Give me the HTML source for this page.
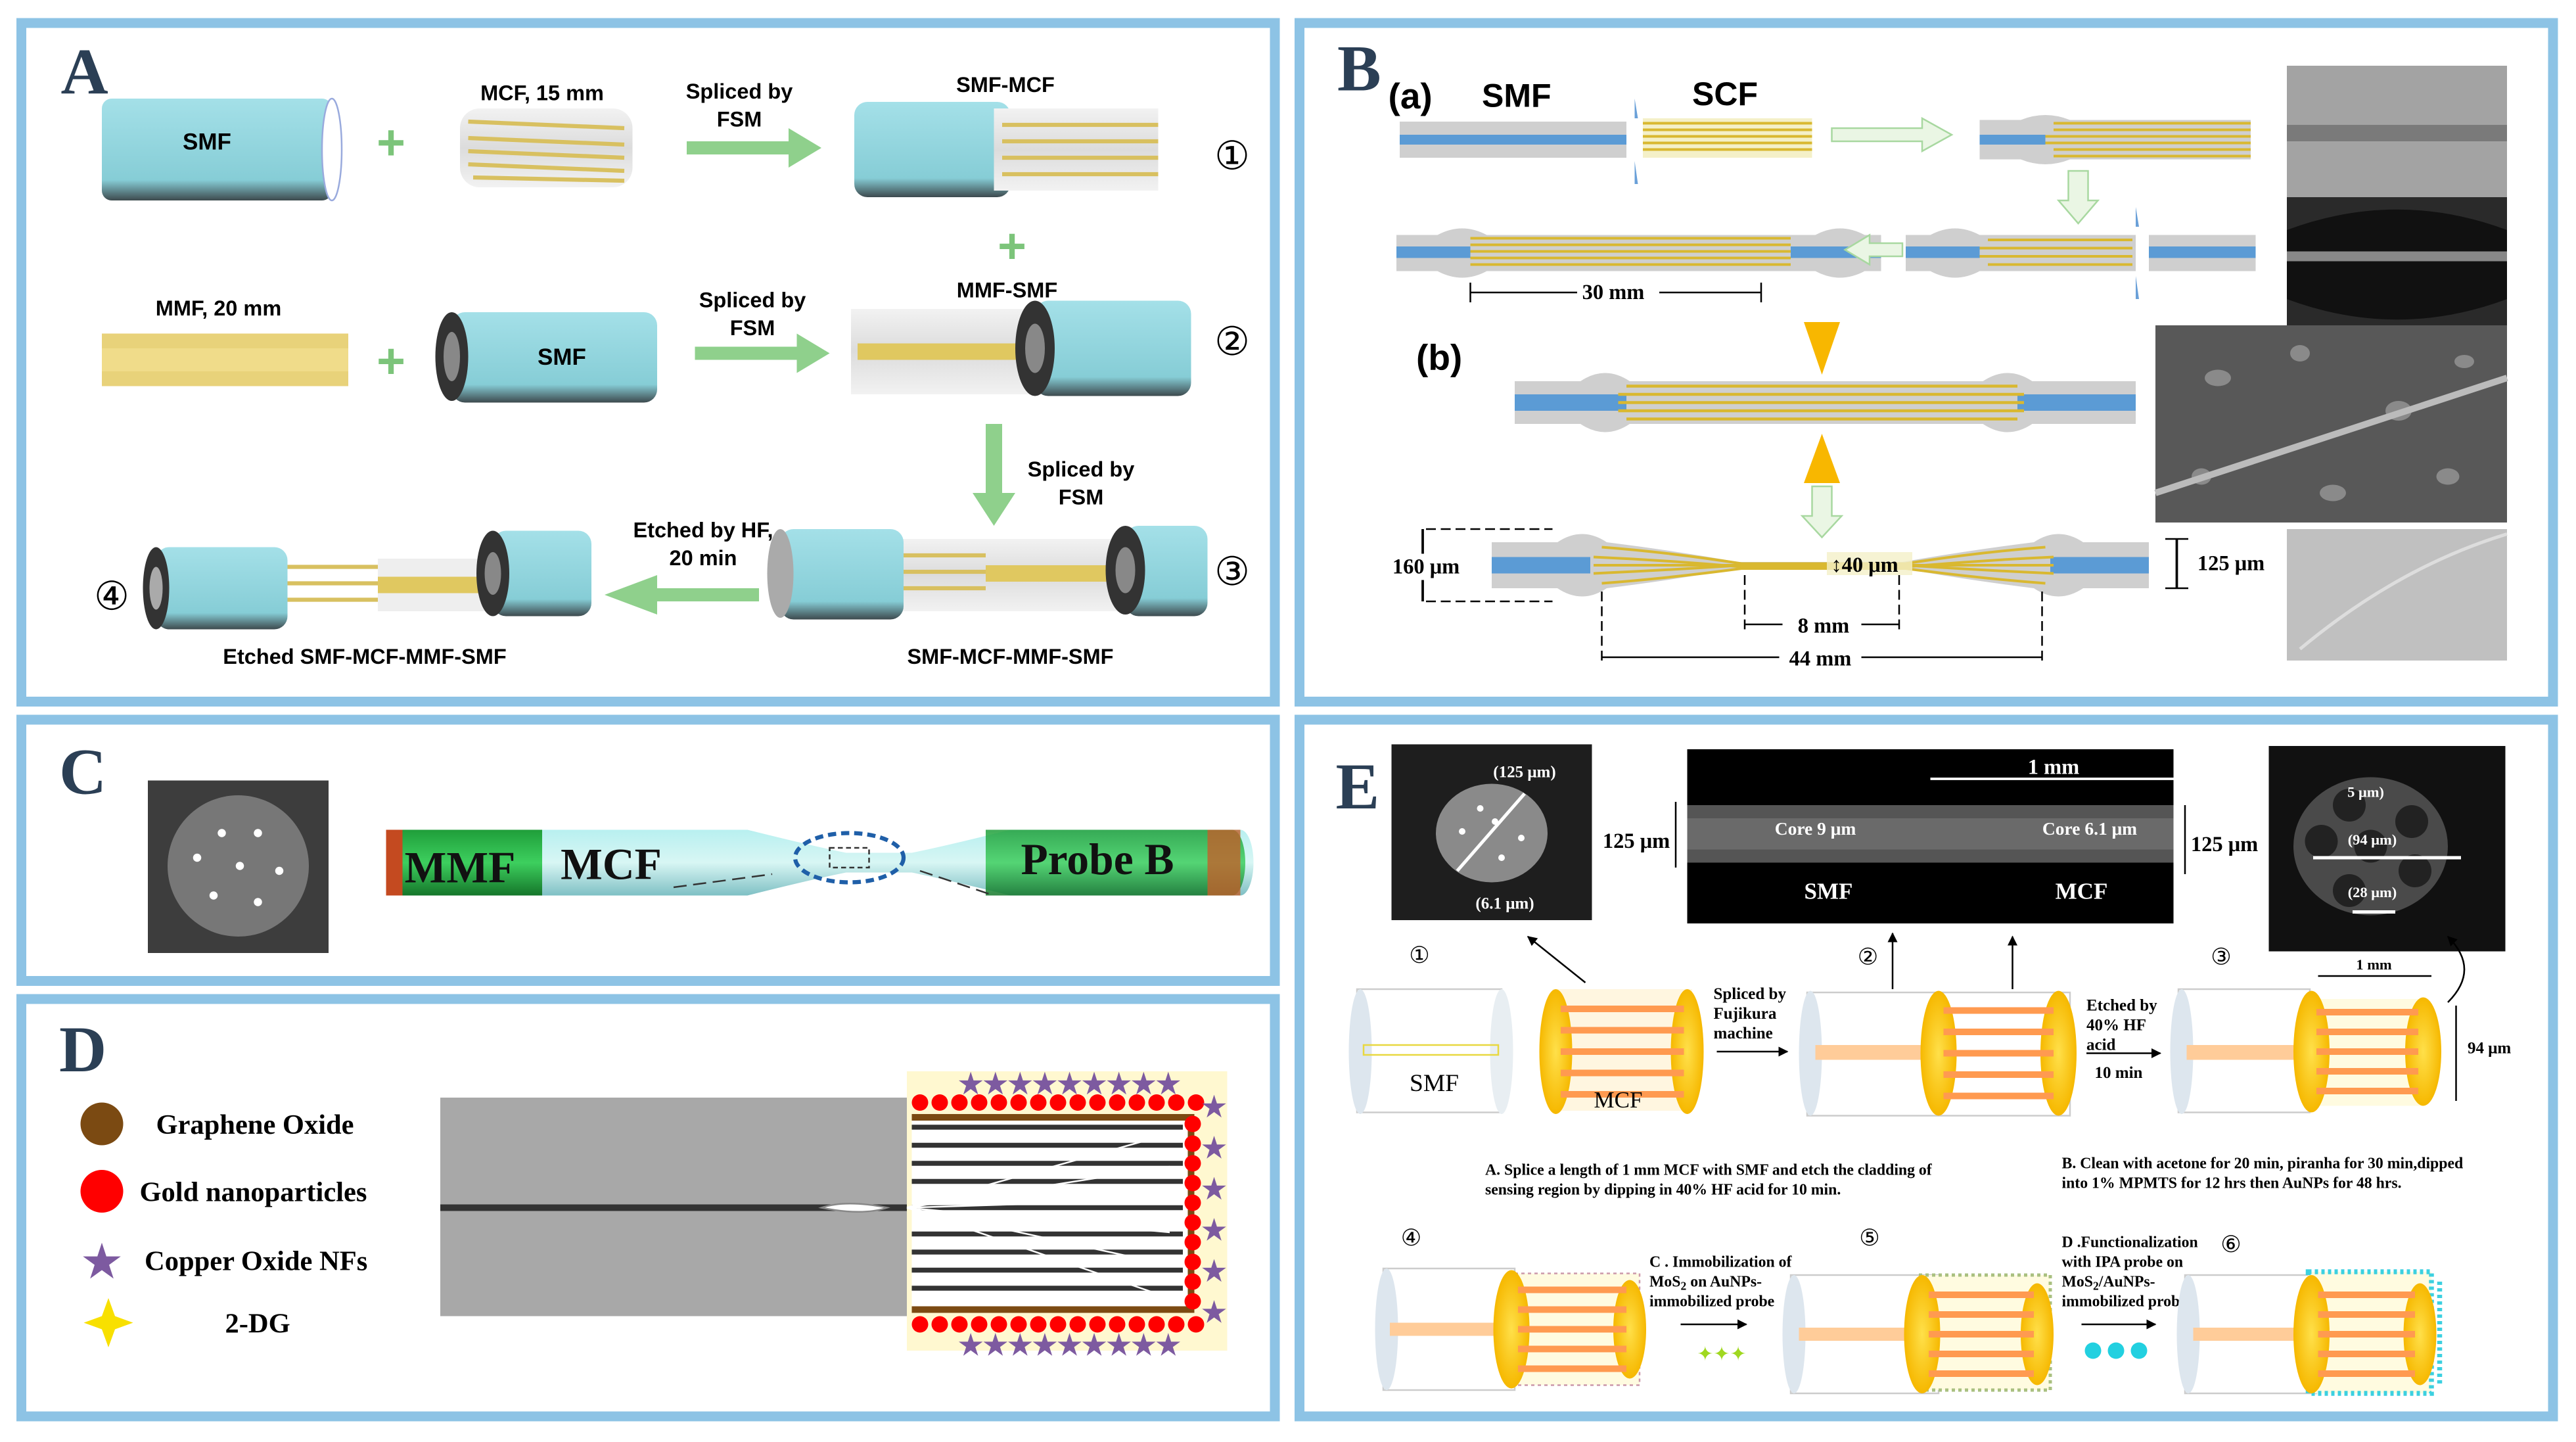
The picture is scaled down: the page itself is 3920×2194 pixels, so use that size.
<!DOCTYPE html>
<html><head><meta charset="utf-8"><style>
html,body{margin:0;padding:0;background:#fff}
svg{display:block}
.s{font-family:"Liberation Sans",Arial,sans-serif;font-weight:bold}
.r{font-family:"Liberation Serif",serif;font-weight:bold}
.L{font-family:"Liberation Serif",serif;fill:#2b3f55;font-size:40px;font-weight:bold}
</style></head><body>
<svg width="3920" height="2194" viewBox="0 0 1568 877.6" xmlns="http://www.w3.org/2000/svg">
<defs>
<linearGradient id="teal" x1="0" y1="0" x2="0" y2="1"><stop offset="0" stop-color="#a4e0e8"/><stop offset="0.8" stop-color="#86cdd6"/><stop offset="1" stop-color="#3d4a4e"/></linearGradient>
<linearGradient id="gry" x1="0" y1="0" x2="0" y2="1"><stop offset="0" stop-color="#f2f2f2"/><stop offset="0.5" stop-color="#dcdcdc"/><stop offset="1" stop-color="#f2f2f2"/></linearGradient>
<linearGradient id="fib" x1="0" y1="0" x2="0" y2="1"><stop offset="0" stop-color="#b8f0f0"/><stop offset="0.5" stop-color="#d8f6f4"/><stop offset="1" stop-color="#7fc0c4"/></linearGradient>
<linearGradient id="grn" x1="0" y1="0" x2="0" y2="1"><stop offset="0" stop-color="#1f9e3a"/><stop offset="0.5" stop-color="#3dcf5e"/><stop offset="1" stop-color="#15762a"/></linearGradient>
<radialGradient id="yel"><stop offset="0" stop-color="#ffe04a"/><stop offset="1" stop-color="#f6b800"/></radialGradient>
<marker id="ah" viewBox="0 0 10 10" refX="9" refY="5" markerWidth="6" markerHeight="6" orient="auto"><path d="M0,0L10,5L0,10z" fill="#000"/></marker>
</defs>
<rect width="1568" height="877.6" fill="#fff"/>
<g fill="none" stroke="#8dc3e5" stroke-width="6">
<rect x="13" y="14" width="763" height="413"/>
<rect x="791" y="14" width="763" height="413"/>
<rect x="13" y="438" width="763" height="159"/>
<rect x="13" y="608" width="763" height="254"/>
<rect x="791" y="438" width="763" height="424"/>
</g>

<!-- PANEL A -->
<text x="37" y="57" class="L">A</text>
<g>
<rect x="62" y="60" width="140" height="62" rx="6" fill="url(#teal)"/><ellipse cx="202" cy="91" rx="6" ry="31" fill="#fff" stroke="#9ad"/>
<text x="126" y="91" class="s" font-size="14" text-anchor="middle">SMF</text>
<text x="238" y="97" fill="#7cc47a" font-size="30" font-weight="bold" text-anchor="middle" font-family="Liberation Sans">+</text>
<rect x="280" y="66" width="105" height="48" rx="12" fill="url(#gry)"/>
<g stroke="#d8c060" stroke-width="2.5"><line x1="285" y1="74" x2="380" y2="78"/><line x1="285" y1="84" x2="380" y2="88"/><line x1="285" y1="92" x2="380" y2="96"/><line x1="285" y1="100" x2="380" y2="104"/><line x1="288" y1="108" x2="380" y2="110"/></g>
<text x="330" y="61" class="s" font-size="13" text-anchor="middle">MCF, 15 mm</text>
<text x="450" y="60" class="s" font-size="13" text-anchor="middle">Spliced by</text><text x="450" y="77" class="s" font-size="13" text-anchor="middle">FSM</text>
<path d="M418,86h62v-8l20,12l-20,12v-8h-62z" fill="#8fd08c"/>
<rect x="520" y="62" width="95" height="58" rx="8" fill="url(#teal)"/>
<rect x="605" y="66" width="100" height="50" fill="url(#gry)"/>
<g stroke="#d8c060" stroke-width="2.5"><line x1="610" y1="76" x2="705" y2="76"/><line x1="610" y1="86" x2="705" y2="86"/><line x1="610" y1="96" x2="705" y2="96"/><line x1="610" y1="106" x2="705" y2="106"/></g>
<text x="612" y="56" class="s" font-size="13" text-anchor="middle">SMF-MCF</text>
<text x="750" y="103" font-size="24" text-anchor="middle" font-family="DejaVu Sans">①</text>
<text x="616" y="160" fill="#7cc47a" font-size="30" font-weight="bold" text-anchor="middle" font-family="Liberation Sans">+</text>
<text x="133" y="192" class="s" font-size="13" text-anchor="middle">MMF, 20 mm</text>
<rect x="62" y="203" width="150" height="32" fill="#e8d27a"/><rect x="62" y="212" width="150" height="14" fill="#f0dc8a"/>
<text x="238" y="230" fill="#7cc47a" font-size="30" font-weight="bold" text-anchor="middle" font-family="Liberation Sans">+</text>
<rect x="275" y="190" width="125" height="55" rx="8" fill="url(#teal)"/><ellipse cx="275" cy="217" rx="10" ry="27" fill="#333"/><ellipse cx="275" cy="217" rx="5" ry="15" fill="#888"/>
<text x="342" y="222" class="s" font-size="14" text-anchor="middle">SMF</text>
<text x="458" y="187" class="s" font-size="13" text-anchor="middle">Spliced by</text><text x="458" y="204" class="s" font-size="13" text-anchor="middle">FSM</text>
<path d="M423,211h62v-8l20,12l-20,12v-8h-62z" fill="#8fd08c"/>
<rect x="518" y="188" width="110" height="52" fill="url(#gry)"/><rect x="522" y="209" width="105" height="10" fill="#e0c860"/>
<rect x="630" y="183" width="95" height="58" rx="8" fill="url(#teal)"/><ellipse cx="630" cy="212" rx="12" ry="29" fill="#333"/><ellipse cx="630" cy="212" rx="6" ry="15" fill="#888"/>
<text x="613" y="181" class="s" font-size="13" text-anchor="middle">MMF-SMF</text>
<text x="750" y="216" font-size="24" text-anchor="middle" font-family="DejaVu Sans">②</text>
<path d="M600,258h10v42h8l-13,20l-13,-20h8z" fill="#8fd08c"/>
<text x="658" y="290" class="s" font-size="13" text-anchor="middle">Spliced by</text><text x="658" y="307" class="s" font-size="13" text-anchor="middle">FSM</text>
<rect x="540" y="328" width="140" height="44" fill="url(#gry)"/>
<g stroke="#d8c060" stroke-width="2.5"><line x1="550" y1="338" x2="600" y2="338"/><line x1="550" y1="348" x2="600" y2="348"/><line x1="550" y1="358" x2="600" y2="358"/></g>
<rect x="600" y="344" width="80" height="10" fill="#e0c860"/>
<rect x="475" y="322" width="75" height="55" rx="8" fill="url(#teal)"/><ellipse cx="475" cy="349" rx="8" ry="27" fill="#aaa"/>
<rect x="685" y="320" width="50" height="55" rx="8" fill="url(#teal)"/><ellipse cx="685" cy="347" rx="12" ry="27" fill="#333"/><ellipse cx="685" cy="347" rx="6" ry="14" fill="#888"/>
<text x="615" y="404" class="s" font-size="13" text-anchor="middle">SMF-MCF-MMF-SMF</text>
<text x="750" y="356" font-size="24" text-anchor="middle" font-family="DejaVu Sans">③</text>
<path d="M462,358h-62v-8l-32,12l32,12v-8h62z" fill="#8fd08c"/>
<text x="428" y="327" class="s" font-size="13" text-anchor="middle">Etched by HF,</text><text x="428" y="344" class="s" font-size="13" text-anchor="middle">20 min</text>
<rect x="95" y="333" width="80" height="50" rx="8" fill="url(#teal)"/><ellipse cx="95" cy="358" rx="8" ry="25" fill="#333"/><ellipse cx="95" cy="358" rx="4" ry="13" fill="#aaa"/>
<g stroke="#d8c060" stroke-width="2.5"><line x1="175" y1="345" x2="300" y2="345"/><line x1="175" y1="355" x2="300" y2="355"/><line x1="175" y1="365" x2="300" y2="365"/></g>
<rect x="230" y="340" width="75" height="32" fill="#eee"/><rect x="230" y="351" width="75" height="10" fill="#e0c860"/>
<rect x="300" y="323" width="60" height="52" rx="8" fill="url(#teal)"/><ellipse cx="300" cy="349" rx="10" ry="26" fill="#333"/><ellipse cx="300" cy="349" rx="5" ry="13" fill="#888"/>
<text x="222" y="404" class="s" font-size="13" text-anchor="middle">Etched SMF-MCF-MMF-SMF</text>
<text x="68" y="371" font-size="24" text-anchor="middle" font-family="DejaVu Sans">④</text>
</g>

<!-- PANEL B -->
<text x="814" y="55" class="L">B</text>
<text x="845" y="66" class="s" font-size="22">(a)</text>
<text x="902" y="65" class="s" font-size="20">SMF</text>
<text x="1030" y="64" class="s" font-size="20">SCF</text>
<g>
<rect x="852" y="74" width="138" height="22" fill="#cfcfcf"/><rect x="852" y="82" width="138" height="6" fill="#5b9bd5"/>
<path d="M995,60l2,12l-2,0zM995,98l2,14l-2,0z" fill="#6aa0d8"/>
<rect x="1000" y="72" width="103" height="24" fill="#f4f0c8"/>
<g stroke="#d9b830" stroke-width="1.6"><line x1="1000" y1="75" x2="1103" y2="75"/><line x1="1000" y1="79" x2="1103" y2="79"/><line x1="1000" y1="83" x2="1103" y2="83"/><line x1="1000" y1="87" x2="1103" y2="87"/><line x1="1000" y1="91" x2="1103" y2="91"/></g>
<path d="M1115,78h55v-6l18,10l-18,10v-6h-55z" fill="#eaf6e4" stroke="#a8d8a0"/>
<path d="M1205,73h25q15,-6 30,0h110v24h-110q-15,6 -30,0h-25z" fill="#cfcfcf"/><rect x="1205" y="82" width="40" height="6" fill="#5b9bd5"/>
<g stroke="#d9b830" stroke-width="1.6"><line x1="1250" y1="75" x2="1370" y2="75"/><line x1="1250" y1="79" x2="1370" y2="79"/><line x1="1245" y1="83" x2="1370" y2="83"/><line x1="1245" y1="87" x2="1370" y2="87"/><line x1="1250" y1="91" x2="1370" y2="91"/><line x1="1250" y1="95" x2="1370" y2="95"/></g>
<path d="M1259,104h12v18h6l-12,14l-12,-14h6z" fill="#eaf6e4" stroke="#a8d8a0"/>
<path d="M850,143h25q15,-8 30,0h200q15,-8 30,0h10v22h-10q-15,8 -30,0h-200q-15,8 -30,0h-25z" fill="#cfcfcf"/>
<rect x="850" y="150" width="45" height="7" fill="#5b9bd5"/><rect x="1090" y="150" width="55" height="7" fill="#5b9bd5"/>
<g stroke="#d9b830" stroke-width="1.6"><line x1="895" y1="145" x2="1090" y2="145"/><line x1="895" y1="149" x2="1090" y2="149"/><line x1="895" y1="153" x2="1090" y2="153"/><line x1="895" y1="157" x2="1090" y2="157"/><line x1="895" y1="161" x2="1090" y2="161"/></g>
<path d="M1158,148h-20v-5l-15,9l15,9v-5h20z" fill="#eaf6e4" stroke="#a8d8a0"/>
<path d="M1160,143h15q15,-8 30,0h95v22h-95q-15,8 -30,0h-15z" fill="#cfcfcf"/><rect x="1160" y="150" width="45" height="7" fill="#5b9bd5"/>
<g stroke="#d9b830" stroke-width="1.6"><line x1="1210" y1="146" x2="1298" y2="146"/><line x1="1205" y1="151" x2="1298" y2="151"/><line x1="1205" y1="156" x2="1298" y2="156"/><line x1="1210" y1="161" x2="1298" y2="161"/></g>
<path d="M1300,126l2,12l-2,0zM1300,168l2,14l-2,0z" fill="#6aa0d8"/>
<rect x="1308" y="143" width="65" height="22" fill="#cfcfcf"/><rect x="1308" y="150" width="65" height="7" fill="#5b9bd5"/>
<line x1="895" y1="178" x2="1072" y2="178" stroke="#000"/><line x1="895" y1="172" x2="895" y2="184" stroke="#000"/><line x1="1072" y1="172" x2="1072" y2="184" stroke="#000"/>
<rect x="960" y="170" width="50" height="14" fill="#fff"/><text x="982" y="182" class="r" font-size="13" text-anchor="middle">30 mm</text>
<rect x="1392" y="40" width="134" height="80" fill="#a3a3a3"/><rect x="1392" y="76" width="134" height="10" fill="#7a7a7a"/>
<rect x="1392" y="120" width="134" height="78" fill="#2a2a2a"/><path d="M1392,140q67,-25 134,0v42q-67,25 -134,0z" fill="#111"/><rect x="1392" y="153" width="134" height="6" fill="#888"/>
<rect x="1312" y="198" width="214" height="120" fill="#585858"/>
<g fill="#8a8a8a"><ellipse cx="1350" cy="230" rx="8" ry="5"/><ellipse cx="1400" cy="215" rx="6" ry="5"/><ellipse cx="1460" cy="250" rx="8" ry="6"/><ellipse cx="1490" cy="290" rx="7" ry="5"/><ellipse cx="1340" cy="290" rx="6" ry="5"/><ellipse cx="1420" cy="300" rx="8" ry="5"/><ellipse cx="1500" cy="220" rx="6" ry="4"/></g>
<line x1="1312" y1="300" x2="1526" y2="230" stroke="#bbb" stroke-width="4"/>
<rect x="1392" y="322" width="134" height="80" fill="#c0c0c0"/><path d="M1400,395q60,-50 126,-70" stroke="#ddd" fill="none" stroke-width="2"/>
<text x="862" y="225" class="s" font-size="22">(b)</text>
<path d="M1098,196h22l-11,32z" fill="#f8b700"/>
<path d="M922,232h40q15,-10 30,0h215q15,-10 30,0h63v26h-63q-15,10 -30,0h-215q-15,10 -30,0h-40z" fill="#cfcfcf"/>
<rect x="922" y="240" width="68" height="10" fill="#5b9bd5"/><rect x="1228" y="240" width="72" height="10" fill="#5b9bd5"/>
<g stroke="#d9b830" stroke-width="1.8"><line x1="990" y1="235" x2="1228" y2="235"/><line x1="985" y1="240" x2="1232" y2="240"/><line x1="985" y1="245" x2="1232" y2="245"/><line x1="985" y1="250" x2="1232" y2="250"/><line x1="990" y1="255" x2="1228" y2="255"/></g>
<path d="M1098,294h22l-11,-30z" fill="#f8b700"/>
<path d="M1103,296h12v18h6l-12,13l-12,-13h6z" fill="#eaf6e4" stroke="#a8d8a0"/>
<path d="M908,330h40q15,-10 30,0q40,5 80,12h100q40,-7 80,-12q15,-10 30,0h40v28h-40q-15,10 -30,0q-40,-5 -80,-12h-100q-40,7 -80,12q-15,10 -30,0h-40z" fill="#cfcfcf"/>
<rect x="908" y="339" width="60" height="10" fill="#5b9bd5"/><rect x="1248" y="339" width="60" height="10" fill="#5b9bd5"/>
<g stroke="#d9b830" stroke-width="1.6"><path d="M975,333q40,3 85,10h100q45,-7 85,-10" fill="none"/><path d="M970,339q45,2 90,6h100q45,-4 90,-6" fill="none"/><line x1="970" y1="344" x2="1250" y2="344"/><path d="M970,349q45,-2 90,-5h100q45,3 90,5" fill="none"/><path d="M975,355q40,-3 85,-9h100q45,6 85,9" fill="none"/></g>
<rect x="1112" y="336" width="52" height="14" fill="#f4f0c8" opacity="0.8"/>
<text x="1135" y="348" class="r" font-size="13" text-anchor="middle">↕40 μm</text>
<g stroke="#000" stroke-dasharray="6,3" fill="none"><line x1="868" y1="322" x2="945" y2="322"/><line x1="868" y1="366" x2="945" y2="366"/><line x1="975" y1="360" x2="975" y2="402"/><line x1="1243" y1="360" x2="1243" y2="402"/><line x1="1062" y1="350" x2="1062" y2="384"/><line x1="1156" y1="350" x2="1156" y2="384"/></g>
<line x1="866" y1="322" x2="866" y2="366" stroke="#000" stroke-width="1.5"/>
<rect x="842" y="337" width="52" height="16" fill="#fff"/><text x="868" y="349" class="r" font-size="13" text-anchor="middle">160 μm</text>
<line x1="1325" y1="328" x2="1325" y2="358" stroke="#000" stroke-width="1.5"/><line x1="1318" y1="328" x2="1332" y2="328" stroke="#000"/><line x1="1318" y1="358" x2="1332" y2="358" stroke="#000"/>
<text x="1358" y="347" class="r" font-size="13" text-anchor="middle">125 μm</text>
<line x1="1062" y1="380" x2="1156" y2="380" stroke="#000"/><rect x="1085" y="373" width="48" height="14" fill="#fff"/><text x="1110" y="385" class="r" font-size="13" text-anchor="middle">8 mm</text>
<line x1="975" y1="400" x2="1243" y2="400" stroke="#000"/><rect x="1083" y="393" width="50" height="14" fill="#fff"/><text x="1108" y="405" class="r" font-size="13" text-anchor="middle">44 mm</text>
</g>

<!-- PANEL C -->
<text x="36" y="483" class="L">C</text>
<rect x="90" y="475" width="110" height="105" fill="#3d3d3d"/>
<circle cx="145" cy="527" r="43" fill="#777"/>
<g fill="#fff"><circle cx="135" cy="507" r="2.5"/><circle cx="157" cy="507" r="2.5"/><circle cx="120" cy="522" r="2.5"/><circle cx="146" cy="527" r="2.5"/><circle cx="170" cy="530" r="2.5"/><circle cx="130" cy="545" r="2.5"/><circle cx="157" cy="549" r="2.5"/></g>
<path d="M235,505h220q40,10 60,14h40q20,-4 60,-14h140a8,20 0 0 1 0,40h-140q-40,-10 -60,-14h-40q-20,4 -60,14h-220z" fill="url(#fib)"/>
<path d="M235,505h95v40h-95z" fill="url(#grn)"/>
<path d="M235,505h10v40h-10z" fill="#c44a20"/>
<path d="M600,505h150a8,20 0 0 1 0,40h-150z" fill="url(#grn)" opacity="0.85"/>
<rect x="735" y="505" width="20" height="40" fill="#c2602a" opacity="0.8"/>
<text x="280" y="537" class="r" font-size="27" text-anchor="middle" fill="#111">MMF</text>
<text x="372" y="535" class="r" font-size="27" text-anchor="middle" fill="#111">MCF</text>
<text x="668" y="532" class="r" font-size="27" text-anchor="middle" fill="#111">Probe B</text>
<ellipse cx="517" cy="522" rx="33" ry="15" fill="none" stroke="#1f5fa8" stroke-width="2.5" stroke-dasharray="5,3"/>
<rect x="505" y="516" width="24" height="12" fill="none" stroke="#333" stroke-dasharray="3,2"/>
<line x1="410" y1="540" x2="470" y2="532" stroke="#333" stroke-dasharray="8,4"/><line x1="560" y1="530" x2="605" y2="545" stroke="#333" stroke-dasharray="8,4"/>

<!-- PANEL D -->
<text x="36" y="652" class="L">D</text>
<circle cx="62" cy="684" r="13" fill="#7b4a12"/>
<circle cx="62" cy="725" r="13" fill="#f00"/>
<text x="62" y="778" font-size="30" fill="#7d5aa0" text-anchor="middle" font-family="DejaVu Sans">★</text>
<path d="M66,790l4,11l11,4l-11,4l-4,11l-4,-11l-11,-4l11,-4z" fill="#f8e000"/>
<text x="95" y="690" class="r" font-size="17">Graphene Oxide</text>
<text x="85" y="731" class="r" font-size="17">Gold nanoparticles</text>
<text x="88" y="773" class="r" font-size="17">Copper Oxide NFs</text>
<text x="137" y="811" class="r" font-size="17">2-DG</text>
<rect x="268" y="668" width="290" height="133" fill="#a8a8a8"/>
<rect x="268" y="733" width="290" height="4" fill="#333"/>
<path d="M500,735q15,-5 40,0q-15,5 -40,0z" fill="#fff" stroke="#888"/>
<rect x="552" y="652" width="195" height="170" fill="#fff8d0"/>
<rect x="555" y="680" width="170" height="117" fill="#fff"/>
<g stroke="#333" stroke-width="3"><line x1="555" y1="686" x2="720" y2="686"/><line x1="555" y1="697" x2="720" y2="697"/><line x1="555" y1="708" x2="720" y2="708"/><line x1="555" y1="719" x2="720" y2="719"/><line x1="555" y1="751" x2="720" y2="751"/><line x1="555" y1="762" x2="720" y2="762"/><line x1="555" y1="773" x2="720" y2="773"/><line x1="555" y1="784" x2="720" y2="784"/><line x1="555" y1="735" x2="720" y2="735"/></g>
<g stroke="#fff" fill="none" stroke-width="1"><path d="M552,735l160,-45M552,735l160,-25M552,735l160,-5M552,735l160,15M552,735l160,35M552,735l160,55"/></g>
<path d="M555,680h170v117h-170" fill="none" stroke="#7b4a12" stroke-width="4"/>
<g fill="#f00"><circle cx="560" cy="671" r="5"/><circle cx="572" cy="671" r="5"/><circle cx="584" cy="671" r="5"/><circle cx="596" cy="671" r="5"/><circle cx="608" cy="671" r="5"/><circle cx="620" cy="671" r="5"/><circle cx="632" cy="671" r="5"/><circle cx="644" cy="671" r="5"/><circle cx="656" cy="671" r="5"/><circle cx="668" cy="671" r="5"/><circle cx="680" cy="671" r="5"/><circle cx="692" cy="671" r="5"/><circle cx="704" cy="671" r="5"/><circle cx="716" cy="671" r="5"/><circle cx="728" cy="671" r="5"/>
<circle cx="560" cy="806" r="5"/><circle cx="572" cy="806" r="5"/><circle cx="584" cy="806" r="5"/><circle cx="596" cy="806" r="5"/><circle cx="608" cy="806" r="5"/><circle cx="620" cy="806" r="5"/><circle cx="632" cy="806" r="5"/><circle cx="644" cy="806" r="5"/><circle cx="656" cy="806" r="5"/><circle cx="668" cy="806" r="5"/><circle cx="680" cy="806" r="5"/><circle cx="692" cy="806" r="5"/><circle cx="704" cy="806" r="5"/><circle cx="716" cy="806" r="5"/><circle cx="728" cy="806" r="5"/>
<circle cx="726" cy="684" r="5"/><circle cx="726" cy="696" r="5"/><circle cx="726" cy="708" r="5"/><circle cx="726" cy="720" r="5"/><circle cx="726" cy="732" r="5"/><circle cx="726" cy="744" r="5"/><circle cx="726" cy="756" r="5"/><circle cx="726" cy="768" r="5"/><circle cx="726" cy="780" r="5"/><circle cx="726" cy="792" r="5"/></g>
<text x="650" y="666" font-size="19" fill="#7d5aa0" text-anchor="middle" font-family="DejaVu Sans" letter-spacing="-2">★★★★★★★★★</text>
<text x="650" y="825" font-size="19" fill="#7d5aa0" text-anchor="middle" font-family="DejaVu Sans" letter-spacing="-2">★★★★★★★★★</text>
<g font-size="19" fill="#7d5aa0" text-anchor="middle" font-family="DejaVu Sans"><text x="739" y="680">★</text><text x="739" y="705">★</text><text x="739" y="730">★</text><text x="739" y="755">★</text><text x="739" y="780">★</text><text x="739" y="805">★</text></g>

<!-- PANEL E -->
<text x="813" y="492" class="L">E</text>
<rect x="847" y="453" width="122" height="107" fill="#1e1e1e"/>
<ellipse cx="908" cy="507" rx="34" ry="30" fill="#8a8a8a"/>
<g fill="#fff"><circle cx="901" cy="492" r="2"/><circle cx="890" cy="506" r="2"/><circle cx="926" cy="510" r="2"/><circle cx="914" cy="522" r="2"/><circle cx="910" cy="500" r="2"/></g>
<line x1="887" y1="530" x2="928" y2="483" stroke="#fff" stroke-width="2"/>
<text x="928" y="473" class="r" font-size="10" fill="#fff" text-anchor="middle">(125 μm)</text>
<text x="916" y="553" class="r" font-size="10" fill="#fff" text-anchor="middle">(6.1 μm)</text>
<rect x="1027" y="456" width="296" height="106" fill="#000"/>
<rect x="1027" y="490" width="296" height="35" fill="#555"/><rect x="1027" y="498" width="296" height="19" fill="#6a6a6a"/>
<line x1="1175" y1="474" x2="1323" y2="474" stroke="#fff" stroke-width="1.5"/>
<text x="1250" y="471" class="r" font-size="13" fill="#fff" text-anchor="middle">1 mm</text>
<text x="1105" y="508" class="r" font-size="11" fill="#fff" text-anchor="middle">Core 9 μm</text>
<text x="1272" y="508" class="r" font-size="11" fill="#fff" text-anchor="middle">Core 6.1 μm</text>
<text x="1113" y="547" class="r" font-size="14" fill="#fff" text-anchor="middle">SMF</text>
<text x="1267" y="547" class="r" font-size="14" fill="#fff" text-anchor="middle">MCF</text>
<text x="996" y="516" class="r" font-size="13" text-anchor="middle">125 μm</text>
<line x1="1020" y1="488" x2="1020" y2="528" stroke="#000"/><line x1="1330" y1="490" x2="1330" y2="532" stroke="#000"/>
<text x="1354" y="518" class="r" font-size="13" text-anchor="middle">125 μm</text>
<rect x="1381" y="454" width="144" height="125" fill="#111"/>
<ellipse cx="1443" cy="515" rx="47" ry="42" fill="#4a4a4a"/>
<g fill="#222"><circle cx="1443" cy="515" r="10"/><circle cx="1430" cy="490" r="10"/><circle cx="1468" cy="500" r="10"/><circle cx="1470" cy="530" r="10"/><circle cx="1430" cy="542" r="10"/><circle cx="1413" cy="512" r="10"/></g>
<text x="1440" y="485" class="r" font-size="9" fill="#fff" text-anchor="middle">5 μm)</text>
<text x="1444" y="514" class="r" font-size="9" fill="#fff" text-anchor="middle">(94 μm)</text>
<line x1="1408" y1="522" x2="1498" y2="522" stroke="#fff" stroke-width="2"/>
<text x="1444" y="546" class="r" font-size="9" fill="#fff" text-anchor="middle">(28 μm)</text>
<line x1="1432" y1="555" x2="1458" y2="555" stroke="#fff" stroke-width="2"/>
<text x="864" y="586" font-size="14" text-anchor="middle" font-family="DejaVu Sans">①</text>
<text x="1137" y="587" font-size="14" text-anchor="middle" font-family="DejaVu Sans">②</text>
<text x="1352" y="587" font-size="14" text-anchor="middle" font-family="DejaVu Sans">③</text>
<line x1="965" y1="598" x2="930" y2="570" stroke="#000" marker-end="url(#ah)"/>
<line x1="1152" y1="602" x2="1152" y2="568" stroke="#000" marker-end="url(#ah)"/>
<line x1="1225" y1="602" x2="1225" y2="570" stroke="#000" marker-end="url(#ah)"/>
<path d="M1490,610q20,-20 0,-40" fill="none" stroke="#000" marker-end="url(#ah)"/>
<g>
<rect x="826" y="602" width="88" height="75" fill="#fff" stroke="#ccc"/><ellipse cx="828" cy="640" rx="7" ry="38" fill="#dde6ee"/><ellipse cx="914" cy="640" rx="7" ry="38" fill="#e8eef2"/>
<rect x="830" y="636" width="82" height="6" fill="none" stroke="#e8d840"/>
<text x="873" y="664" class="r" font-size="15" text-anchor="middle" style="font-weight:normal">SMF</text>
<rect x="945" y="602" width="85" height="74" fill="#fff6e0"/>
<ellipse cx="947" cy="640" rx="10" ry="38" fill="url(#yel)"/><ellipse cx="1027" cy="640" rx="10" ry="38" fill="url(#yel)"/>
<g stroke="#ff9a50" stroke-width="4"><line x1="950" y1="614" x2="1025" y2="614"/><line x1="950" y1="627" x2="1025" y2="627"/><line x1="950" y1="640" x2="1025" y2="640"/><line x1="950" y1="653" x2="1025" y2="653"/><line x1="950" y1="666" x2="1025" y2="666"/></g>
<text x="985" y="674" class="r" font-size="14" style="font-weight:normal" text-anchor="middle">MCF</text>
<text x="1043" y="608" class="r" font-size="10">Spliced by</text><text x="1043" y="620" class="r" font-size="10">Fujikura</text><text x="1043" y="632" class="r" font-size="10">machine</text>
<line x1="1045" y1="640" x2="1088" y2="640" stroke="#000" marker-end="url(#ah)"/>
<rect x="1100" y="604" width="160" height="75" fill="#fff" stroke="#ccc"/><ellipse cx="1102" cy="641" rx="7" ry="38" fill="#dde6ee"/>
<rect x="1105" y="636" width="80" height="9" fill="#ffcc99"/>
<ellipse cx="1180" cy="641" rx="11" ry="38" fill="url(#yel)"/><ellipse cx="1253" cy="641" rx="11" ry="38" fill="url(#yel)"/>
<g stroke="#ff9a50" stroke-width="4"><line x1="1183" y1="615" x2="1250" y2="615"/><line x1="1183" y1="628" x2="1250" y2="628"/><line x1="1183" y1="641" x2="1250" y2="641"/><line x1="1183" y1="654" x2="1250" y2="654"/><line x1="1183" y1="667" x2="1250" y2="667"/></g>
<text x="1270" y="615" class="r" font-size="10">Etched by</text><text x="1270" y="627" class="r" font-size="10">40% HF</text><text x="1270" y="639" class="r" font-size="10">acid</text>
<line x1="1270" y1="641" x2="1315" y2="641" stroke="#000" marker-end="url(#ah)"/>
<text x="1275" y="656" class="r" font-size="10">10 min</text>
<rect x="1326" y="602" width="80" height="75" fill="#fff" stroke="#ccc"/><ellipse cx="1328" cy="640" rx="7" ry="38" fill="#dde6ee"/>
<rect x="1331" y="636" width="80" height="9" fill="#ffcc99"/>
<rect x="1405" y="608" width="70" height="65" fill="#fffbe0"/>
<ellipse cx="1407" cy="640" rx="11" ry="37" fill="url(#yel)"/><ellipse cx="1475" cy="640" rx="11" ry="33" fill="url(#yel)"/>
<g stroke="#ff9a50" stroke-width="4"><line x1="1410" y1="616" x2="1472" y2="616"/><line x1="1410" y1="628" x2="1472" y2="628"/><line x1="1410" y1="640" x2="1472" y2="640"/><line x1="1410" y1="652" x2="1472" y2="652"/><line x1="1410" y1="664" x2="1472" y2="664"/></g>
<line x1="1411" y1="594" x2="1480" y2="594" stroke="#000"/><text x="1445" y="590" class="r" font-size="9" text-anchor="middle">1 mm</text>
<line x1="1495" y1="612" x2="1495" y2="670" stroke="#000"/><text x="1502" y="641" class="r" font-size="10">94 μm</text>
</g>
<text x="904" y="715" class="r" font-size="9.5">A. Splice a length of 1 mm MCF with SMF and etch the cladding of</text>
<text x="904" y="727" class="r" font-size="9.5">sensing region by dipping in 40% HF acid for 10 min.</text>
<text x="1255" y="711" class="r" font-size="9.5">B. Clean with acetone for 20 min, piranha for 30 min,dipped</text>
<text x="1255" y="723" class="r" font-size="9.5">into 1% MPMTS for 12 hrs then AuNPs for 48 hrs.</text>
<text x="859" y="758" font-size="14" text-anchor="middle" font-family="DejaVu Sans">④</text>
<text x="1138" y="758" font-size="14" text-anchor="middle" font-family="DejaVu Sans">⑤</text>
<text x="1358" y="762" font-size="14" text-anchor="middle" font-family="DejaVu Sans">⑥</text>
<g>
<rect x="842" y="772" width="80" height="74" fill="#fff" stroke="#ccc"/><ellipse cx="844" cy="809" rx="7" ry="37" fill="#dde6ee"/><rect x="846" y="805" width="80" height="8" fill="#ffcc99"/>
<rect x="918" y="775" width="80" height="68" fill="#fffbe0" stroke="#c9a" stroke-dasharray="2,2"/>
<ellipse cx="920" cy="809" rx="11" ry="36" fill="url(#yel)"/><ellipse cx="992" cy="809" rx="10" ry="30" fill="url(#yel)"/>
<g stroke="#ff9a50" stroke-width="4"><line x1="924" y1="785" x2="990" y2="785"/><line x1="924" y1="797" x2="990" y2="797"/><line x1="924" y1="809" x2="990" y2="809"/><line x1="924" y1="821" x2="990" y2="821"/><line x1="924" y1="833" x2="990" y2="833"/></g>
<text x="1004" y="771" class="r" font-size="9.5">C . Immobilization of</text><text x="1004" y="783" class="r" font-size="9.5">MoS<tspan font-size="7" dy="2">2</tspan><tspan dy="-2"> on AuNPs-</tspan></text><text x="1004" y="795" class="r" font-size="9.5">immobilized probe</text>
<line x1="1023" y1="806" x2="1063" y2="806" stroke="#000" marker-end="url(#ah)"/>
<text x="1048" y="828" fill="#a0d820" font-size="12" text-anchor="middle" font-family="DejaVu Sans">✦✦✦</text>
<rect x="1090" y="776" width="90" height="72" fill="#fff" stroke="#ccc"/><ellipse cx="1092" cy="812" rx="7" ry="36" fill="#dde6ee"/><rect x="1095" y="808" width="80" height="8" fill="#ffcc99"/>
<rect x="1168" y="776" width="80" height="70" fill="#fffbe0" stroke="#a9c080" stroke-dasharray="2,2" stroke-width="2"/>
<ellipse cx="1170" cy="812" rx="11" ry="36" fill="url(#yel)"/><ellipse cx="1240" cy="812" rx="10" ry="31" fill="url(#yel)"/>
<g stroke="#ff9a50" stroke-width="4"><line x1="1174" y1="788" x2="1238" y2="788"/><line x1="1174" y1="800" x2="1238" y2="800"/><line x1="1174" y1="812" x2="1238" y2="812"/><line x1="1174" y1="824" x2="1238" y2="824"/><line x1="1174" y1="836" x2="1238" y2="836"/></g>
<text x="1255" y="759" class="r" font-size="9.5">D .Functionalization</text><text x="1255" y="771" class="r" font-size="9.5">with IPA probe on</text><text x="1255" y="783" class="r" font-size="9.5">MoS<tspan font-size="7" dy="2">2</tspan><tspan dy="-2">/AuNPs-</tspan></text><text x="1255" y="795" class="r" font-size="9.5">immobilized probe</text>
<line x1="1267" y1="806" x2="1312" y2="806" stroke="#000" marker-end="url(#ah)"/>
<g fill="#22d0e0"><circle cx="1274" cy="822" r="5"/><circle cx="1288" cy="822" r="5"/><circle cx="1302" cy="822" r="5"/></g>
<rect x="1330" y="776" width="80" height="72" fill="#fff" stroke="#ccc"/><ellipse cx="1332" cy="812" rx="7" ry="36" fill="#dde6ee"/><rect x="1335" y="808" width="80" height="8" fill="#ffcc99"/>
<rect x="1405" y="774" width="75" height="74" fill="#fffbe0" stroke="#3cd0e0" stroke-dasharray="2,2" stroke-width="3"/>
<ellipse cx="1407" cy="812" rx="11" ry="36" fill="url(#yel)"/><ellipse cx="1473" cy="812" rx="10" ry="31" fill="url(#yel)"/>
<g stroke="#ff9a50" stroke-width="4"><line x1="1411" y1="788" x2="1470" y2="788"/><line x1="1411" y1="800" x2="1470" y2="800"/><line x1="1411" y1="812" x2="1470" y2="812"/><line x1="1411" y1="824" x2="1470" y2="824"/><line x1="1411" y1="836" x2="1470" y2="836"/></g>
<path d="M1485,780v64" stroke="#3cd0e0" stroke-width="3" stroke-dasharray="2,2"/>
</g>
</svg>
</body></html>
